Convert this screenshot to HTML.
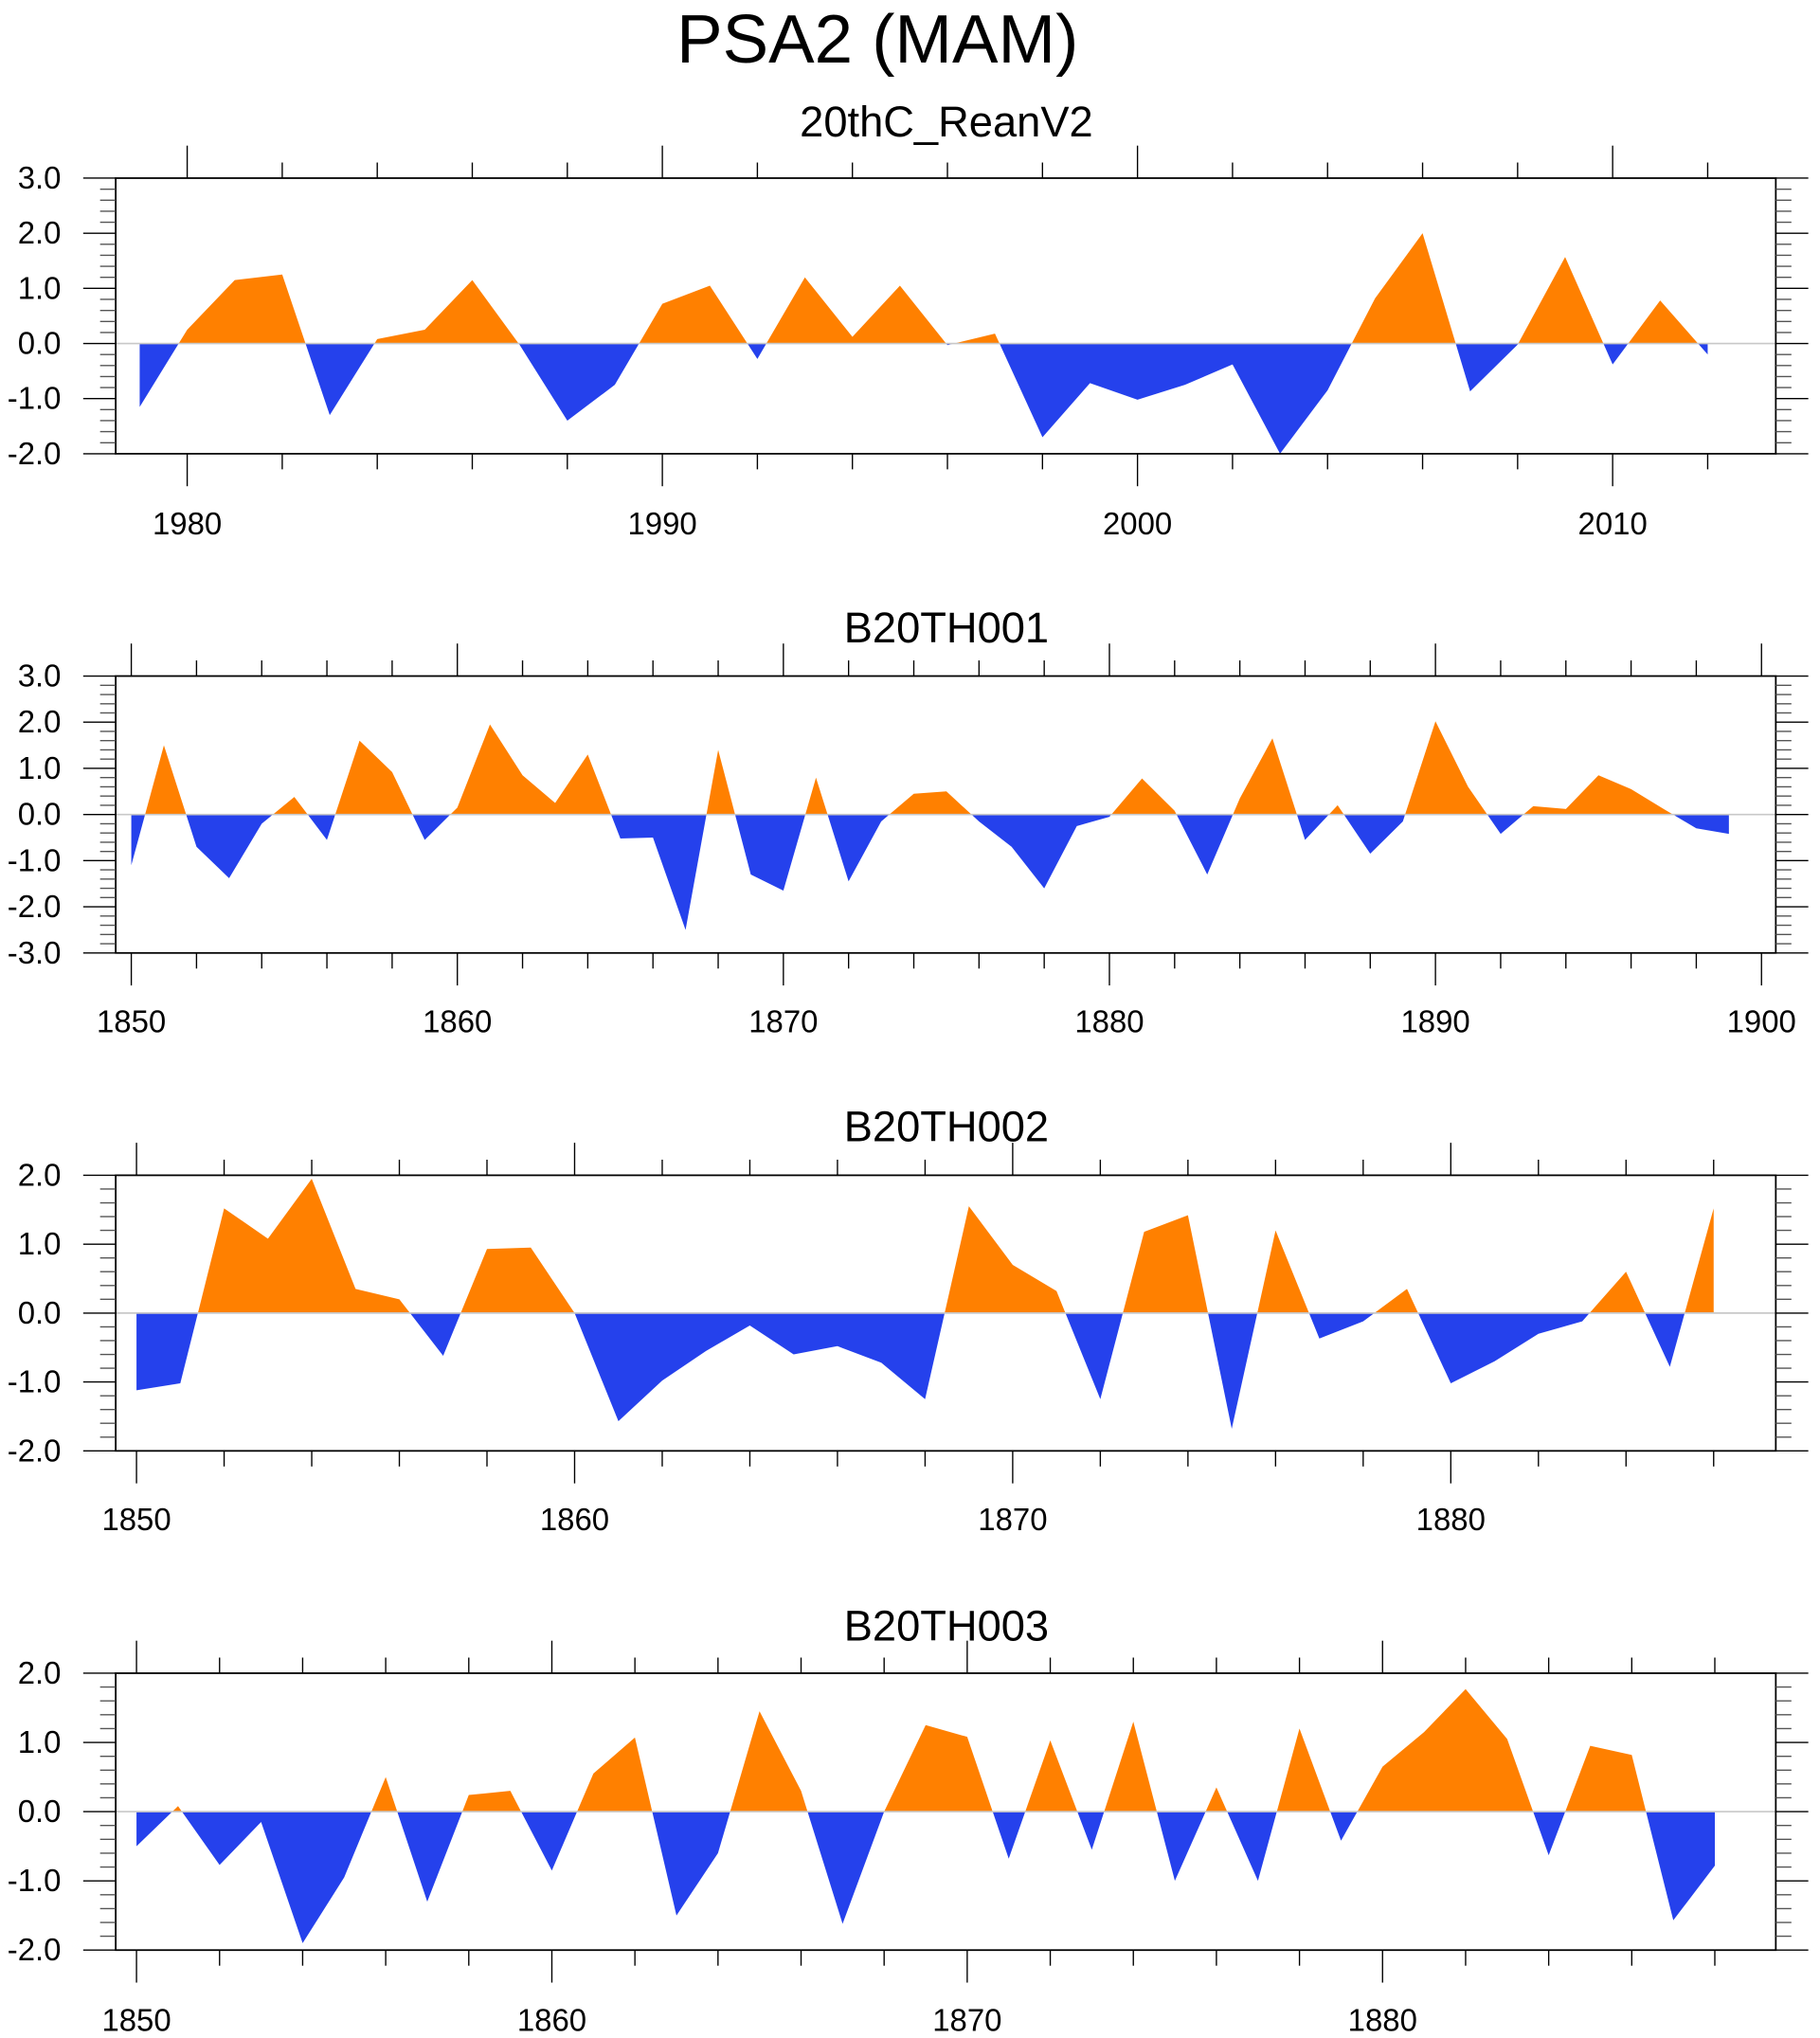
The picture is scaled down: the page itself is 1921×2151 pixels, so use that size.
<!DOCTYPE html>
<html><head><meta charset="utf-8"><style>
html,body{margin:0;padding:0;background:#fff;}
svg{display:block;font-family:"Liberation Sans",sans-serif;}
</style></head><body>
<svg id="chart" width="1921" height="2151" viewBox="0 0 1400 1567.6" xmlns="http://www.w3.org/2000/svg">
<text x="675" y="48" font-size="53" text-anchor="middle">PSA2 (MAM)</text>
</svg>
<script>
// Panel 1: 20thC_ReanV2
const years1Start = 1979;
const values1 = [-1.15,0.25,1.15,1.25,-1.3,0.08,0.25,1.15,-0.03,-1.4,-0.75,0.72,1.05,-0.28,1.2,0.12,1.05,-0.03,0.18,-1.7,-0.72,-1.02,-0.75,-0.38,-2.0,-0.85,0.82,2.0,-0.87,-0.02,1.57,-0.38,0.78,-0.2];
const ticks1 = [1980,1990,2000,2010];
const yTicks1 = ["3.0","2.0","1.0","0.0","-1.0","-2.0"];
// Panel 2: B20TH001
const years2Start = 1850;
const values2 = [-1.1,1.5,-0.7,-1.38,-0.2,0.38,-0.55,1.6,0.92,-0.55,0.15,1.95,0.85,0.25,1.3,-0.52,-0.5,-2.5,1.4,-1.3,-1.65,0.8,-1.45,-0.15,0.45,0.5,-0.15,-0.7,-1.6,-0.25,-0.05,0.78,0.08,-1.3,0.35,1.65,-0.55,0.2,-0.85,-0.15,2.02,0.6,-0.42,0.18,0.12,0.85,0.55,0.12,-0.3,-0.42];
const ticks2 = [1850,1860,1870,1880,1890,1900];
const yTicks2 = ["3.0","2.0","1.0","0.0","-1.0","-2.0","-3.0"];
// Panel 3: B20TH002
const years3Start = 1850;
const values3 = [-1.12,-1.02,1.52,1.08,1.95,0.35,0.2,-0.62,0.93,0.95,0.0,-1.57,-0.98,-0.55,-0.18,-0.6,-0.48,-0.72,-1.25,1.55,0.7,0.32,-1.25,1.18,1.42,-1.68,1.2,-0.37,-0.12,0.35,-1.02,-0.7,-0.3,-0.12,0.6,-0.78,1.52];
const ticks3 = [1850,1860,1870,1880];
const yTicks3 = ["2.0","1.0","0.0","-1.0","-2.0"];
// Panel 4: B20TH003
const years4Start = 1850;
const values4 = [-0.5,0.08,-0.77,-0.15,-1.9,-0.95,0.5,-1.3,0.24,0.3,-0.85,0.55,1.07,-1.5,-0.6,1.45,0.3,-1.62,0.0,1.25,1.08,-0.68,1.03,-0.55,1.3,-1.0,0.35,-1.0,1.2,-0.42,0.65,1.15,1.77,1.05,-0.63,0.95,0.82,-1.57,-0.78];
const ticks4 = [1850,1860,1870,1880];
const yTicks4 = ["2.0","1.0","0.0","-1.0","-2.0"];

const NS="http://www.w3.org/2000/svg";
const svg=document.getElementById('chart');
function mk(tag,attrs,parent){const e=document.createElementNS(NS,tag);for(const k in attrs)e.setAttribute(k,attrs[k]);(parent||svg).appendChild(e);return e;}

function panel(id,title,start,vals,xticks,yticks,top,bot,x0year,pxPerYear,ymax,ymin,titleY,labelY){
  const L=89,R=1366;
  const g=mk('g',{});
  
  
  const xs=yr=>x0year+(yr-xticks[0])*pxPerYear;
  const ys=v=>top+(ymax-v)/(ymax-ymin)*(bot-top);
  const t=mk('text',{x:728,y:titleY,'font-size':33,'text-anchor':'middle'},g);
  t.textContent=title;
  
  
  const cid='c'+id;
  const defs=mk('defs',{},g);
  const cpA=mk('clipPath',{id:cid+'a'},defs);mk('rect',{x:L,y:top,width:R-L,height:ys(0)-top},cpA);
  const cpB=mk('clipPath',{id:cid+'b'},defs);mk('rect',{x:L,y:ys(0),width:R-L,height:bot-ys(0)},cpB);
  let pts=[];
  vals.forEach((v,i)=>pts.push(xs(start+i).toFixed(2)+','+ys(v).toFixed(2)));
  const poly=xs(start).toFixed(2)+','+ys(0)+' '+pts.join(' ')+' '+xs(start+vals.length-1).toFixed(2)+','+ys(0);
  const pa=mk('polygon',{points:poly,fill:'#ff8000','clip-path':'url(#'+cid+'a)'},g);
  
  
  const pb=mk('polygon',{points:poly,fill:'#2541ec','clip-path':'url(#'+cid+'b)'},g);
  
  
  mk('line',{x1:L,x2:R,y1:ys(0),y2:ys(0),stroke:'#c8c8c8','stroke-width':1.2},g);
  const box=mk('rect',{x:L,y:top,width:R-L,height:bot-top,fill:'none',stroke:'#000','stroke-width':1.3},g);
  
  
  const y0=xticks[0];
  for(let yr=y0-10;yr<=y0+80;yr+=2){
    const x=xs(yr); if(x<L-0.5||x>R+0.5)continue;
    const major=((yr-y0)%10===0);
    const len=major?25:12;
    mk('line',{x1:x,x2:x,y1:top,y2:top-len,stroke:'#000','stroke-width':1},g);
    mk('line',{x1:x,x2:x,y1:bot,y2:bot+len,stroke:'#000','stroke-width':1},g);
  }
  xticks.forEach(yr=>{const tt=mk('text',{x:xs(yr),y:labelY,'font-size':24,'text-anchor':'middle'},g);tt.textContent=yr;
    });
  const step=(ymax-ymin)/(yticks.length-1);
  for(let v=ymin;v<=ymax+1e-6;v+=0.2){
    const y=ys(v);
    const major=Math.abs(Math.round(v)-v)<1e-6;
    const len=major?25:12;
    mk('line',{x1:L,x2:L-len,y1:y,y2:y,stroke:major?'#000':'#555','stroke-width':1},g);
    mk('line',{x1:R,x2:R+len,y1:y,y2:y,stroke:major?'#000':'#555','stroke-width':1},g);
  }
  yticks.forEach((lab,i)=>{const tt=mk('text',{x:47,y:ys(ymax-i*step)+8,'font-size':24,'text-anchor':'end'},g);tt.textContent=lab;
    });
}
panel('reanv2','20thC_ReanV2',years1Start,values1,ticks1,yTicks1,137,349,144,36.55,3,-2,105,411);
panel('b20th001','B20TH001',years2Start,values2,ticks2,yTicks2,520,733,101,25.08,3,-3,494,794);
panel('b20th002','B20TH002',years3Start,values3,ticks3,yTicks3,904,1116,105,33.7,2,-2,878,1177);
panel('b20th003','B20TH003',years4Start,values4,ticks4,yTicks4,1287,1500,105,31.95,2,-2,1262,1562);
</script>
</body></html>
